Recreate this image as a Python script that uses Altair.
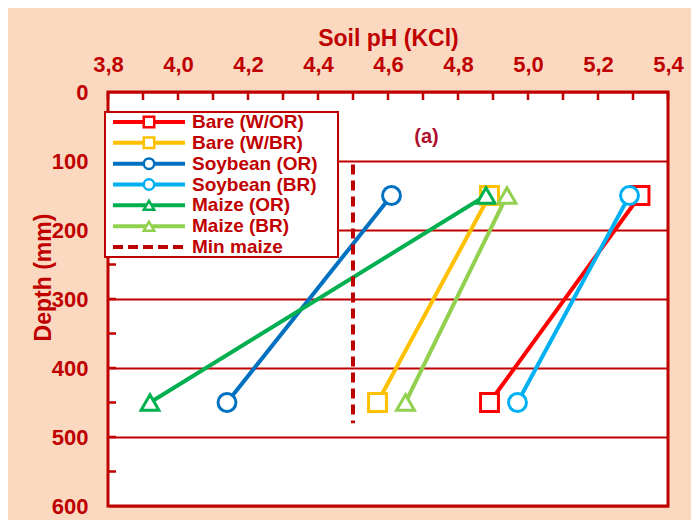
import altair as alt
import pandas as pd

# ---------------- data ----------------
series = ["Bare (W/OR)", "Bare (W/BR)", "Soybean (OR)", "Soybean (BR)", "Maize (OR)", "Maize (BR)"]
colors = ["#FF0000", "#FFC000", "#0070C0", "#00B0F0", "#00B050", "#92D050"]
shapes = ["square", "square", "circle", "circle", "triangle-up", "triangle-up"]
depths = [150, 450]
ph_at_150 = [5.32, 4.89, 4.61, 5.29, 4.88, 4.94]
ph_at_450 = [4.89, 4.57, 4.14, 4.97, 3.92, 4.65]

min_label = "Min maize"
min_color = "#C00000"
min_ph = [4.5, 4.5]
min_depth = [105, 480]

x_label_values = [3.8, 4.0, 4.2, 4.4, 4.6, 4.8, 5.0, 5.2, 5.4]
x_tick_values = [3.8, 3.9, 4.0, 4.1, 4.2, 4.3, 4.4, 4.5, 4.6, 4.7, 4.8, 4.9, 5.0, 5.1, 5.2, 5.3, 5.4]
y_label_values = [0, 100, 200, 300, 400, 500, 600]
y_tick_values = [50, 100, 150, 200, 250, 300, 350, 400, 450, 500, 550]

panel_text = ["(a)"]
panel_ph = [4.71]
panel_depth = [65]

# ---------------- tables ----------------
rows = []
for s, a, b in zip(series, ph_at_150, ph_at_450):
    rows.append({"series": s, "ph": a, "depth": depths[0]})
    rows.append({"series": s, "ph": b, "depth": depths[1]})
df = pd.DataFrame(rows)
min_df = pd.DataFrame({"series": [min_label] * 2, "ph": min_ph, "depth": min_depth})
xt_df = pd.DataFrame({"v": x_tick_values})
yt_df = pd.DataFrame({"v": y_tick_values})
panel_df = pd.DataFrame({"t": panel_text, "ph": panel_ph, "depth": panel_depth})
all_labels = series + [min_label]
leg_df = pd.DataFrame({"label": all_labels})

RED = "#C00000"
FONT = "Liberation Sans"

xs = alt.Scale(domain=[3.8, 5.4], nice=False, zero=False)
ys = alt.Scale(domain=[0, 600], reverse=True, nice=False, zero=False)
color_scale = alt.Scale(domain=all_labels, range=colors + [min_color])
shape_scale = alt.Scale(domain=series, range=shapes)

x_axis = alt.Axis(
    orient="top", values=x_label_values, ticks=False, domain=False, grid=False,
    labelExpr="replace(format(datum.value, '.1f'), '.', ',')",
    labelFont=FONT, labelFontSize=22, labelFontWeight="bold", labelColor=RED,
    labelPadding=16, labelFlush=False,
    title="Soil pH (KCl)", titleFont=FONT, titleFontSize=23, titleFontWeight="bold",
    titleColor=RED, titleBaseline="alphabetic", titleY=-47,
)
y_axis = alt.Axis(
    values=y_label_values, ticks=False, domain=False, grid=True,
    gridColor=RED, gridWidth=2, gridOpacity=1,
    labelFont=FONT, labelFontSize=22, labelFontWeight="bold", labelColor=RED,
    labelPadding=20, labelFlush=False,
    title="Depth (mm)", titleFont=FONT, titleFontSize=23, titleFontWeight="bold",
    titleColor=RED, titleX=-65, titleY=185, titleAngle=-90,
    titleAlign="center", titleBaseline="middle",
)

X = alt.X("ph:Q", scale=xs, axis=x_axis)
Y = alt.Y("depth:Q", scale=ys, axis=y_axis)
C = alt.Color("series:N", scale=color_scale, legend=None)

lines = alt.Chart(df).mark_line(strokeWidth=4).encode(
    x=X, y=Y, color=C, detail="series:N", order="depth:Q"
)
min_line = alt.Chart(min_df).mark_line(strokeWidth=4, strokeDash=[10, 6]).encode(
    x=X, y=Y, color=C
)
points = alt.Chart(df).mark_point(fill="white", fillOpacity=1, opacity=1, strokeWidth=3, size=320).encode(
    x=X, y=Y, color=C, shape=alt.Shape("series:N", scale=shape_scale, legend=None)
)
panel = alt.Chart(panel_df).mark_text(
    font=FONT, fontSize=20, fontWeight="bold", color="#B01030"
).encode(x=X, y=Y, text="t:N")
xticks = alt.Chart(xt_df).mark_rule(color=RED, strokeWidth=2.5).encode(
    x=alt.X("v:Q", scale=xs, axis=x_axis), y=alt.value(0), y2=alt.value(8)
)
yticks = alt.Chart(yt_df).mark_rule(color=RED, strokeWidth=2.5).encode(
    y=alt.Y("v:Q", scale=ys, axis=y_axis), x=alt.value(0), x2=alt.value(8)
)

data_layer = alt.layer(lines, min_line, points, panel, xticks, yticks)

# ---------------- legend ----------------
LY = alt.Y("label:N", scale=alt.Scale(type="point", domain=all_labels, range=[30, 155], padding=0), axis=None)
LC = alt.Color("label:N", scale=color_scale, legend=None)

box = alt.Chart(pd.DataFrame({"k": [0]})).mark_rect(
    fill="white", stroke=RED, strokeWidth=2
).encode(x=alt.value(-3), x2=alt.value(230), y=alt.value(20), y2=alt.value(165))
leg_lines = alt.Chart(leg_df).transform_filter(
    alt.FieldOneOfPredicate(field="label", oneOf=series)
).mark_rule(strokeWidth=4).encode(y=LY, x=alt.value(5), x2=alt.value(77), color=LC)
leg_dash = alt.Chart(leg_df).transform_filter(
    alt.FieldEqualPredicate(field="label", equal=min_label)
).mark_rule(strokeWidth=4, strokeDash=[10, 5]).encode(y=LY, x=alt.value(5), x2=alt.value(77), color=LC)
leg_pts = alt.Chart(leg_df).transform_filter(
    alt.FieldOneOfPredicate(field="label", oneOf=series)
).mark_point(fill="white", fillOpacity=1, opacity=1, strokeWidth=2.5, size=110).encode(
    y=LY, x=alt.value(41), color=LC,
    shape=alt.Shape("label:N", scale=shape_scale, legend=None),
)
leg_text = alt.Chart(leg_df).mark_text(
    align="left", baseline="middle", font=FONT, fontSize=19, fontWeight="bold", color=RED
).encode(y=LY, x=alt.value(84), text="label:N")

legend_layer = alt.layer(box, leg_lines, leg_dash, leg_pts, leg_text)

chart = alt.layer(data_layer, legend_layer).resolve_scale(y="independent").properties(
    width=560, height=414,
    autosize=alt.AutoSizeParams(type="none"),
    padding={"left": 100, "top": 84, "right": 23, "bottom": 14},
    background="#FAD9C0",
).configure_view(stroke=RED, strokeWidth=3, fill="white")

chart.save("out.html", embed_options={"renderer": "svg", "actions": False})
